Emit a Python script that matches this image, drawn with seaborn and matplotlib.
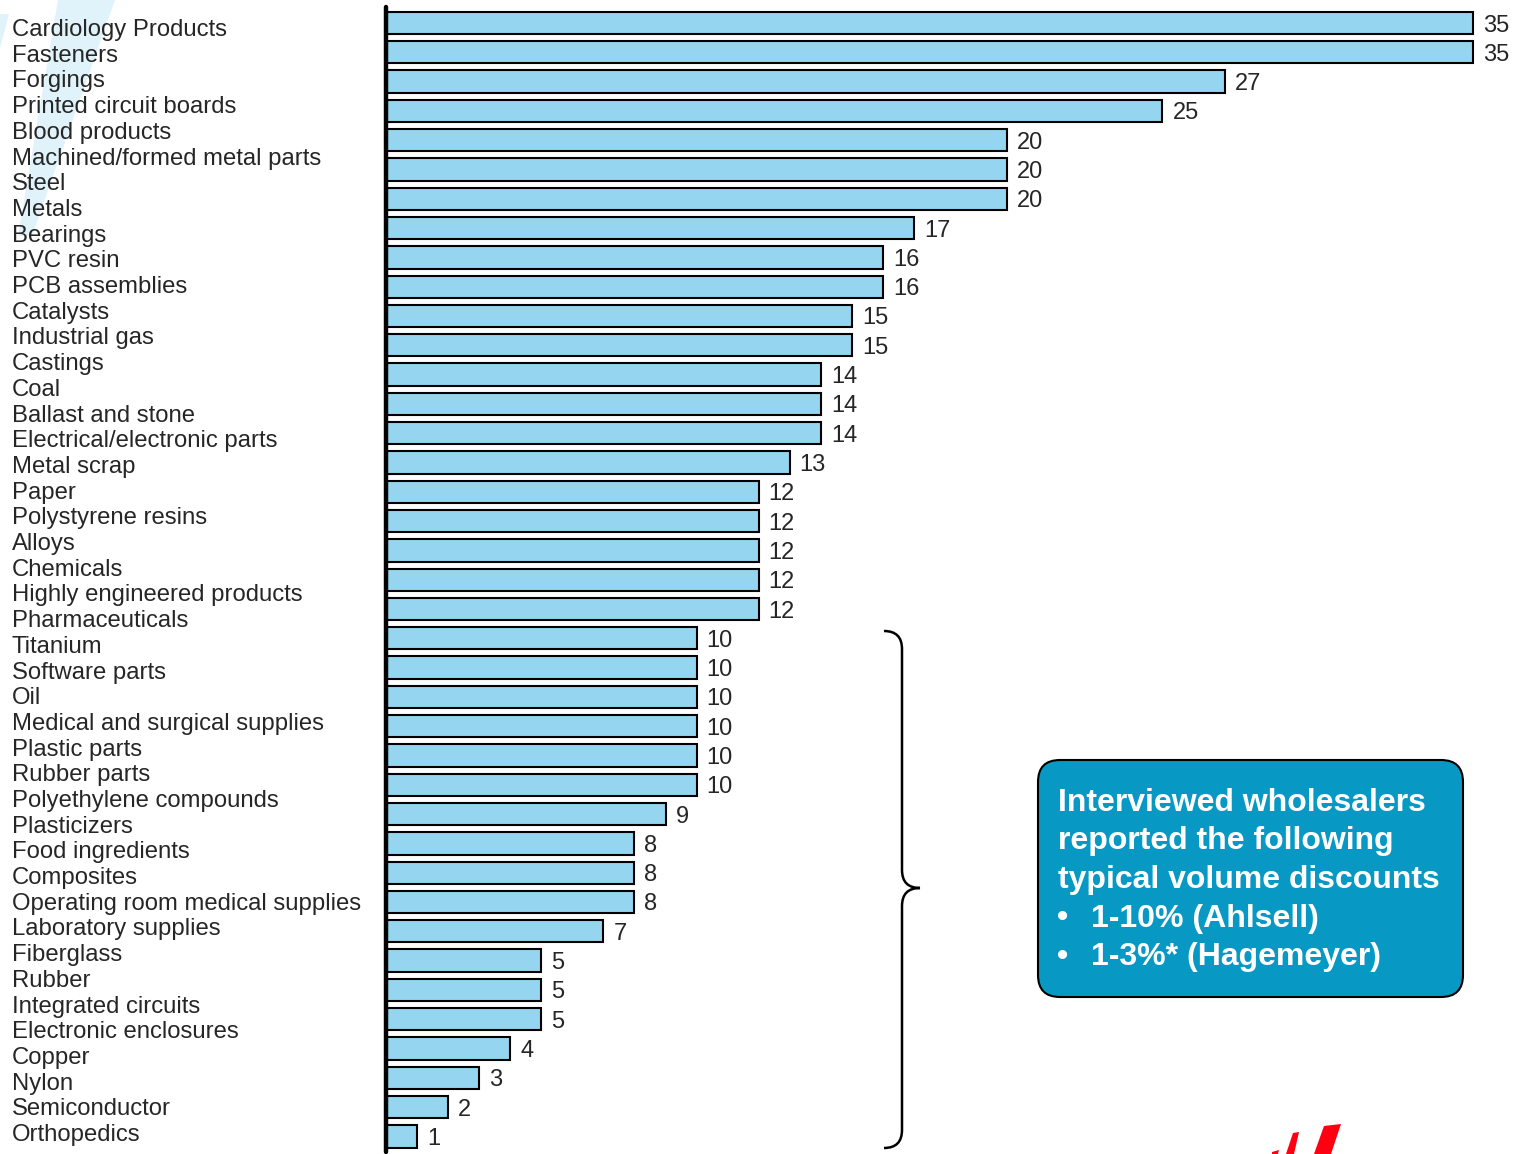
import numpy as np
import matplotlib
matplotlib.use("Agg")
import matplotlib.pyplot as plt
import matplotlib.transforms as mtransforms
from matplotlib.patches import FancyBboxPatch, PathPatch, Polygon
from matplotlib.path import Path
import seaborn as sns

# label column (as printed on the slide)
labels = ["Cardiology Products", "Fasteners", "Forgings", "Printed circuit boards",
          "Blood products", "Machined/formed metal parts", "Steel", "Metals",
          "Bearings", "PVC resin", "PCB assemblies", "Catalysts", "Industrial gas",
          "Castings", "Coal", "Ballast and stone", "Electrical/electronic parts",
          "Metal scrap", "Paper", "Polystyrene resins", "Alloys", "Chemicals",
          "Highly engineered products", "Pharmaceuticals", "Titanium",
          "Software parts", "Oil", "Medical and surgical supplies", "Plastic parts",
          "Rubber parts", "Polyethylene compounds", "Plasticizers",
          "Food ingredients", "Composites", "Operating room medical supplies",
          "Laboratory supplies", "Fiberglass", "Rubber", "Integrated circuits",
          "Electronic enclosures", "Copper", "Nylon", "Semiconductor", "Orthopedics"]

# bar values, top to bottom
values = [35, 35, 27, 25, 20, 20, 20, 17, 16, 16, 15, 15, 14, 14, 14, 13,
          12, 12, 12, 12, 12, 10, 10, 10, 10, 10, 10, 9, 8, 8, 8, 7,
          5, 5, 5, 4, 3, 2, 1]
bar_rank = list(range(len(values)))

box_lines = ["Interviewed wholesalers", "reported the following",
             "typical volume discounts"]
box_bullets = ["1-10% (Ahlsell)", "1-3%* (Hagemeyer)"]

W, H = 1519, 1154
sns.set_style("white")
plt.rcParams["font.family"] = ["Liberation Sans", "DejaVu Sans"]

fig = plt.figure(figsize=(W / 100, H / 100), dpi=100)
px = mtransforms.Affine2D().scale(1 / W, -1 / H).translate(0, 1) + fig.transFigure

# faint watermark top-left
fig.patches.append(Polygon([(58, 0), (115, 0), (32, 236), (18, 236)], closed=True,
                           transform=px, facecolor="#e0f2fa", edgecolor="none", zorder=0))
fig.patches.append(Polygon([(0, 14), (9, 14), (0, 48)], closed=True,
                           transform=px, facecolor="#e0f2fa", edgecolor="none", zorder=0))

unit = (1473 - 386) / 35
ax = fig.add_axes([386 / W, 2 / H, (W - 386) / W, 1145 / H])
ax.patch.set_alpha(0)
sns.barplot(x=values, y=bar_rank, orient="h", color="#95d5ef", saturation=1,
            edgecolor="black", linewidth=1.5, width=0.76, ax=ax)
ax.set_xlim(0, (W - 386) / unit)
ax.set_ylim((1152 - 23) / 29.3, -16 / 29.3)

# value labels, a touch below the bar centre like the slide
lab_off = mtransforms.offset_copy(ax.transData, fig=fig, x=10, y=-2.5, units="dots")
for r, v in zip(bar_rank, values):
    ax.text(v, r, f"{v}", transform=lab_off, fontsize=17, va="center", ha="left",
            clip_on=False)

for s in ["top", "right", "bottom"]:
    ax.spines[s].set_visible(False)
ax.spines["left"].set_linewidth(3.2)
ax.spines["left"].set_color("black")
ax.spines["left"].set_capstyle("round")
ax.set_xticks([])
ax.set_yticks([])
ax.set_xlabel("")
ax.set_ylabel("")

# label column
for i, lab in enumerate(labels):
    fig.text(12, 36 + i * 25.7, lab, transform=px, fontsize=17.2, va="baseline", ha="left")

# brace
verts = [(884, 631), (902, 631), (902, 649),
         (902, 870),
         (902, 888), (920, 888),
         (902, 888), (902, 906),
         (902, 1130),
         (902, 1148), (884, 1148)]
codes = [Path.MOVETO, Path.CURVE3, Path.CURVE3, Path.LINETO, Path.CURVE3, Path.CURVE3,
         Path.CURVE3, Path.CURVE3, Path.LINETO, Path.CURVE3, Path.CURVE3]
fig.patches.append(PathPatch(Path(verts, codes), transform=px, facecolor="none",
                             edgecolor="black", linewidth=1.8))

# callout box
fig.patches.append(FancyBboxPatch((1038, 760), 425, 237,
                                  boxstyle="round,pad=0,rounding_size=22",
                                  transform=px, facecolor="#0799c4",
                                  edgecolor="black", linewidth=1.5))
y0 = 811
for k, line in enumerate(box_lines):
    fig.text(1058, y0 + k * 38.5, line, transform=px, fontsize=23, fontweight="bold",
             color="white", va="baseline")
for k, line in enumerate(box_bullets):
    yy = y0 + (k + 3) * 38.5
    fig.text(1057, yy, "\u2022", transform=px, fontsize=23, fontweight="bold",
             color="white", va="baseline")
    fig.text(1091, yy, line, transform=px, fontsize=23, fontweight="bold",
             color="white", va="baseline")

# partial red logo bottom-right
red = "#ff0010"
fig.patches.append(Polygon([(1293, 1133), (1299, 1132), (1294, 1154), (1286, 1154)],
                           transform=px, facecolor=red, edgecolor="none"))
fig.patches.append(Polygon([(1272, 1152), (1279, 1150), (1278, 1154), (1272, 1154)],
                           transform=px, facecolor=red, edgecolor="none"))
fig.patches.append(Polygon([(1324, 1126), (1341, 1124), (1331, 1154), (1314, 1154)],
                           transform=px, facecolor=red, edgecolor="none"))

fig.savefig("out.png", dpi=100)
